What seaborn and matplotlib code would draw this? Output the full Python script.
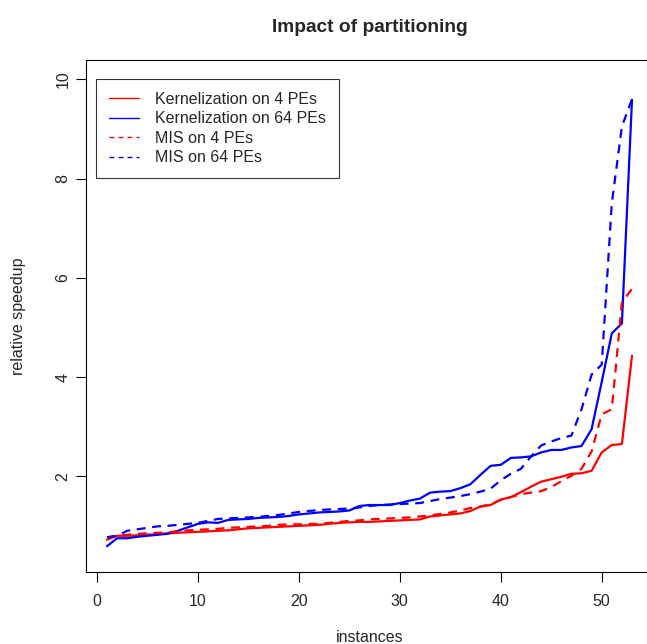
import numpy as np
import pandas as pd
import seaborn as sns
import matplotlib
matplotlib.use("Agg")
import matplotlib.pyplot as plt
from matplotlib.lines import Line2D

# valores (53 instancias, ordenadas)
instances = list(range(1, 54))

kern_4 = [0.72, 0.80, 0.80, 0.81, 0.82, 0.83, 0.85, 0.86, 0.87, 0.88,
          0.89, 0.90, 0.91, 0.93, 0.95, 0.96, 0.97, 0.98, 0.99, 1.00,
          1.01, 1.02, 1.04, 1.06, 1.07, 1.08, 1.08, 1.09, 1.10, 1.11,
          1.12, 1.13, 1.19, 1.21, 1.23, 1.25, 1.30, 1.39, 1.42, 1.53,
          1.58, 1.68, 1.79, 1.89, 1.94, 1.99, 2.05, 2.06, 2.11, 2.48,
          2.63, 2.65, 4.43]

kern_64 = [0.59, 0.75, 0.75, 0.78, 0.80, 0.82, 0.84, 0.90, 0.97, 1.04,
           1.07, 1.06, 1.12, 1.13, 1.14, 1.16, 1.17, 1.18, 1.20, 1.23,
           1.25, 1.27, 1.28, 1.29, 1.31, 1.40, 1.42, 1.42, 1.42, 1.46,
           1.51, 1.55, 1.67, 1.69, 1.70, 1.76, 1.84, 2.03, 2.21, 2.23,
           2.37, 2.38, 2.40, 2.48, 2.53, 2.53, 2.58, 2.61, 2.95, 3.90,
           4.88, 5.08, 9.59]

mis_4 = [0.77, 0.80, 0.82, 0.84, 0.85, 0.86, 0.87, 0.89, 0.91, 0.92,
         0.93, 0.94, 0.96, 0.97, 0.98, 0.99, 1.00, 1.02, 1.03, 1.03,
         1.04, 1.04, 1.06, 1.08, 1.10, 1.11, 1.13, 1.14, 1.15, 1.16,
         1.17, 1.19, 1.21, 1.24, 1.27, 1.31, 1.36, 1.39, 1.44, 1.52,
         1.58, 1.64, 1.67, 1.70, 1.78, 1.90, 2.01, 2.15, 2.50, 3.25,
         3.35, 5.50, 5.78]

mis_64 = [0.77, 0.80, 0.90, 0.93, 0.96, 0.99, 1.00, 1.02, 1.04, 1.06,
          1.10, 1.14, 1.15, 1.16, 1.17, 1.18, 1.20, 1.22, 1.25, 1.28,
          1.30, 1.32, 1.33, 1.34, 1.35, 1.37, 1.40, 1.42, 1.43, 1.44,
          1.45, 1.46, 1.50, 1.54, 1.57, 1.60, 1.64, 1.69, 1.75, 1.92,
          2.05, 2.15, 2.40, 2.62, 2.70, 2.77, 2.82, 3.35, 4.05, 4.25,
          7.50, 9.05, 9.60]

series_names = ["Kernelization on 4 PEs", "Kernelization on 64 PEs",
                "MIS on 4 PEs", "MIS on 64 PEs"]
series_values = [kern_4, kern_64, mis_4, mis_64]
colores = {"Kernelization on 4 PEs": "#FF0000", "Kernelization on 64 PEs": "#0000FF",
           "MIS on 4 PEs": "#FF0000", "MIS on 64 PEs": "#0000FF"}
trazos = {"Kernelization on 4 PEs": "", "Kernelization on 64 PEs": "",
          "MIS on 4 PEs": (4, 3), "MIS on 64 PEs": (4, 3)}

# DataFrame largo para seaborn
df = pd.concat([pd.DataFrame({"instances": instances, "speedup": vals, "serie": name})
                for name, vals in zip(series_names, series_values)], ignore_index=True)

sns.set_style("white")
plt.rcParams["font.family"] = ["Liberation Sans", "DejaVu Sans"]

W, H = 647, 644
fig = plt.figure(figsize=(W / 100, H / 100), dpi=100)
# el grafico original esta recortado por la derecha
ax = fig.add_axes([86 / W, 72 / H, 567 / W, 512 / H])

sns.lineplot(data=df, x="instances", y="speedup", hue="serie", style="serie",
             hue_order=series_names, style_order=series_names,
             palette=colores, dashes=trazos, linewidth=1.6, legend=False, ax=ax)

ax.set_xlim(-1.08, 55.08)
ax.set_ylim(0.07, 10.39)
ax.set_xticks([0, 10, 20, 30, 40, 50])
ax.set_yticks([2, 4, 6, 8, 10])
ax.tick_params(axis="both", direction="out", length=7, width=0.8, color="black",
               labelsize=11.5, bottom=True, left=True)
ax.tick_params(axis="x", pad=9)
ax.tick_params(axis="y", pad=4)
for lab in ax.get_yticklabels():
    lab.set_rotation(90)
    lab.set_va("center")
for sp in ax.spines.values():
    sp.set_color("black")
    sp.set_linewidth(0.8)

ax.set_xlabel("instances", fontsize=11.5)
ax.set_ylabel("relative speedup", fontsize=11.5)
ax.xaxis.set_label_coords(0.5, -0.113)
ax.yaxis.set_label_coords(-0.106, 0.5)

fig.text(369.5 / W, 1 - 27 / H, "Impact of partitioning", ha="center", va="center",
         fontsize=13.8, fontweight="bold")

# leyenda con lineas finas como en el original
handles = []
for name in series_names:
    handles.append(Line2D([0], [0], color=colores[name], lw=1.0,
                          linestyle="-" if trazos[name] == "" else (0, (3.5, 3))))
leg = ax.legend(handles, series_names, loc="upper left",
                bbox_to_anchor=(96 / W, 1 - 79 / H), bbox_transform=fig.transFigure,
                fontsize=11.5, frameon=True, fancybox=False, borderaxespad=0,
                borderpad=0.8, labelspacing=0.28, handlelength=1.9, handletextpad=1.0)
leg.get_frame().set_edgecolor("black")
leg.get_frame().set_linewidth(0.8)

fig.savefig("out.png", dpi=100)
